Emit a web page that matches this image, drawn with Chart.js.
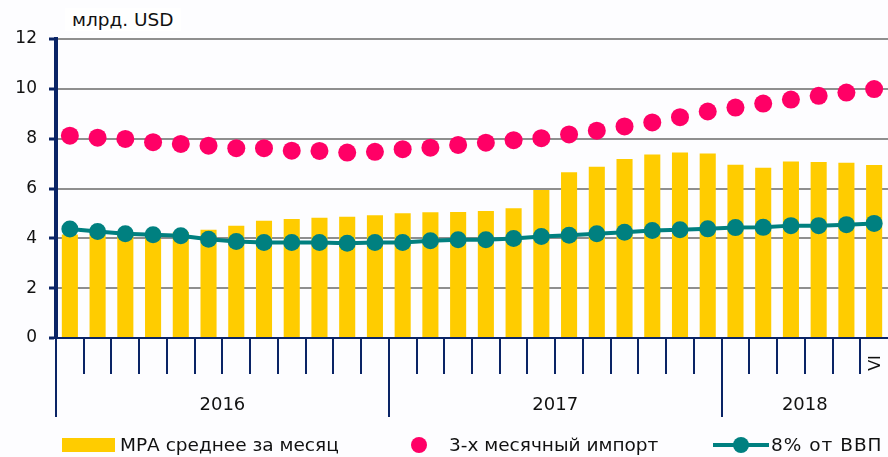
<!DOCTYPE html>
<html>
<head>
<meta charset="utf-8">
<script src="https://cdn.jsdelivr.net/npm/chart.js@4.4.1/dist/chart.umd.min.js"></script>
<style>
  html, body { margin: 0; padding: 0; background: #fdfdff; overflow: hidden; }
  #wrap { position: relative; width: 888px; height: 457px; font-family: "DejaVu Sans", Verdana, sans-serif; }
  #unit { position: absolute; left: 65px; top: 8px; padding: 1px 7px; background: #fff; font-size: 18.5px; color: #111; }
  .leg { position: absolute; top: 434px; font-size: 18.5px; color: #111; white-space: nowrap; }
</style>
</head>
<body>
<div id="wrap">
  <canvas id="cMpa" width="888" height="457"></canvas>
  <div id="unit">млрд. USD</div>
  <div class="leg" style="left:62px"><span style="display:inline-block;width:53px;height:14px;background:#ffcc00;vertical-align:-1px;margin-right:5px"></span>МРА среднее за месяц</div>
  <div class="leg" style="left:411px"><span style="display:inline-block;width:16px;height:16px;border-radius:50%;background:#ff0066;vertical-align:-2px;margin-right:22px"></span>3-х месячный импорт</div>
  <div class="leg" style="left:713px;letter-spacing:1px"><span style="display:inline-block;position:relative;width:56px;height:16px;vertical-align:-2px;margin-right:2px"><span style="position:absolute;left:0;top:6px;width:56px;height:4px;background:#008080"></span><span style="position:absolute;left:20px;top:0;width:16px;height:16px;border-radius:50%;background:#008080"></span></span>8% от ВВП</div>
</div>
<script>
// ---- данные ----
const bulan = ['I','II','III','IV','V','VI','VII','VIII','IX','X','XI','XII',
               'I','II','III','IV','V','VI','VII','VIII','IX','X','XI','XII',
               'I','II','III','IV','V','VI'];
const tahun = ['2016', '2017', '2018'];
const mpaSrednee = [4.15, 4.15, 4.15, 4.2, 4.25, 4.34, 4.51, 4.71, 4.78, 4.83, 4.87, 4.93,
                    5.01, 5.05, 5.06, 5.10, 5.21, 5.94, 6.65, 6.87, 7.18, 7.36, 7.44, 7.40,
                    6.95, 6.83, 7.08, 7.06, 7.03, 6.94];
const importTri = [8.12, 8.04, 7.99, 7.86, 7.79, 7.72, 7.62, 7.62, 7.52, 7.51, 7.44, 7.47,
                   7.58, 7.64, 7.75, 7.84, 7.94, 8.02, 8.17, 8.32, 8.49, 8.65, 8.86, 9.09,
                   9.25, 9.41, 9.57, 9.72, 9.85, 9.99];
const vvp8 = [4.37, 4.27, 4.18, 4.14, 4.10, 3.96, 3.87, 3.83, 3.83, 3.83, 3.80, 3.83,
              3.83, 3.90, 3.94, 3.94, 3.99, 4.07, 4.12, 4.18, 4.24, 4.31, 4.34, 4.38,
              4.43, 4.44, 4.51, 4.51, 4.55, 4.60];
const yTicks = [0, 2, 4, 6, 8, 10, 12];

const NAVY = '#0a2466';

// garis tick bulan + label tahun di bawah paksi x
const paksiBawah = {
    id: 'paksiBawah',
    afterDraw(chart) {
        const x = chart.scales.x, ctx = chart.ctx;
        const y0 = x.top;
        const n = bulan.length;
        const lebar = (x.getPixelForValue(1) - x.getPixelForValue(0));
        ctx.save();
        ctx.strokeStyle = NAVY;
        ctx.lineWidth = 2;
        for (let k = 0; k < n; k++) {
            const px = Math.round(x.getPixelForValue(k) - lebar / 2);
            const panjang = (k % 12 === 0) ? 79 : 36;
            ctx.beginPath();
            ctx.moveTo(px, y0);
            ctx.lineTo(px, y0 + panjang);
            ctx.stroke();
        }
        // label tahun
        ctx.fillStyle = '#111';
        ctx.font = '18px "DejaVu Sans", Verdana, sans-serif';
        ctx.textAlign = 'center';
        ctx.textBaseline = 'middle';
        tahun.forEach((t, i) => {
            const a = x.getPixelForValue(i * 12) - lebar / 2;
            const b = x.getPixelForValue(Math.min(i * 12 + 11, n - 1)) + lebar / 2;
            ctx.fillText(t, (a + b) / 2, y0 + 67);
        });
        // label bulan terakhir (VI), diputar
        const pl = x.getPixelForValue(n - 1);
        ctx.save();
        ctx.translate(pl + 2, y0 + 25);
        ctx.rotate(-Math.PI / 2);
        ctx.font = '16px "DejaVu Sans", Verdana, sans-serif';
        ctx.fillText(bulan[n - 1], 0, 0);
        ctx.restore();
        ctx.restore();
    }
};

const ctx = document.getElementById('cMpa').getContext('2d');
new Chart(ctx, {
    data: {
        labels: bulan,
        datasets: [
            { type: 'line', label: '8% от ВВП', data: vvp8, borderColor: '#008080', backgroundColor: '#008080',
              borderWidth: 4, pointRadius: 8.5, pointHoverRadius: 8.5, pointBorderWidth: 0, order: 0 },
            { type: 'line', label: '3-х месячный импорт', data: importTri, showLine: false,
              backgroundColor: '#ff0066', borderColor: '#ff0066', pointRadius: 9, pointBorderWidth: 0, order: 1 },
            { type: 'bar', label: 'МРА среднее за месяц', data: mpaSrednee, backgroundColor: '#ffcc00',
              barPercentage: 0.58, categoryPercentage: 1, order: 2 }
        ]
    },
    options: {
        responsive: false,
        animation: false,
        layout: { autoPadding: false, padding: { top: 39, right: 0, bottom: 0, left: 0 } },
        plugins: { legend: { display: false }, tooltip: { enabled: false } },
        scales: {
            x: {
                ticks: { display: false },
                grid: { display: false },
                border: { color: NAVY, width: 2 },
                afterFit: (s) => { s.height = 119; }
            },
            y: {
                min: 0, max: 12,
                afterBuildTicks: (s) => { s.ticks = yTicks.map(v => ({ value: v })); },
                ticks: { color: '#111', padding: 12, font: { family: '"DejaVu Sans", Verdana, sans-serif', size: 17 } },
                grid: { color: '#8f8f8f', lineWidth: 2, tickLength: 7, tickColor: NAVY, tickWidth: 3 },
                border: { color: NAVY, width: 4 },
                afterFit: (s) => { s.width = 56; }
            }
        }
    },
    plugins: [paksiBawah]
});
</script>
</body>
</html>
